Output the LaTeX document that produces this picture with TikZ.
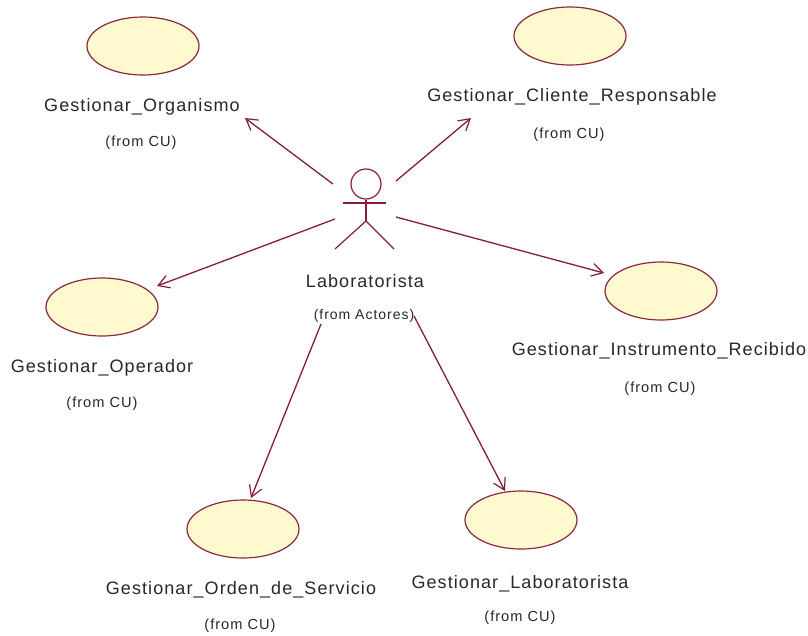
\documentclass[tikz,border=0pt]{standalone}
\usepackage{fontspec}
\setmainfont{Liberation Sans}
\newfontfamily\namefont[LetterSpace=6]{Liberation Sans}
\newfontfamily\fromfont[LetterSpace=7]{Liberation Sans}
\definecolor{umlline}{RGB}{132,28,66}
\definecolor{ucfill}{RGB}{255,249,208}
\definecolor{ucline}{RGB}{140,40,60}
\definecolor{txt}{RGB}{40,40,40}
\usetikzlibrary{shapes.geometric,arrows.meta}
\tikzset{
  usecase/.style={ellipse,draw=ucline,fill=ucfill,line width=1.2pt,minimum width=112pt,minimum height=58pt,inner sep=0pt},
  nametxt/.style={text=txt,font=\namefont\fontsize{18}{20}\selectfont,inner sep=0pt},
  fromtxt/.style={text=txt,font=\fromfont\fontsize{14.6}{16}\selectfont,inner sep=0pt},
  fromtxtb/.style={text=txt,font=\fromfont\fontsize{14}{16}\selectfont,inner sep=0pt},
  assoc/.style={draw=umlline,line width=1.3pt,-{Straight Barb[length=11pt,width=13pt,line width=1.2pt]}},
  actorline/.style={draw=umlline,line width=1.2pt}
}
\begin{document}
\begin{tikzpicture}[x=1pt,y=-1pt]
\useasboundingbox (0,0) rectangle (808,635);
\fill[white] (0,0) rectangle (808,635);
\node[usecase] (uc1) at (143,46) {};
\node[usecase] (uc2) at (570,36) {};
\node[usecase] (uc3) at (102,307) {};
\node[usecase] (uc4) at (661,291) {};
\node[usecase] (uc5) at (243,529) {};
\node[usecase] (uc6) at (521,520) {};
\node[nametxt] (n1) at (142,107) {Gestionar\_Organismo};
\node[fromtxt] (f1) at (141,143) {(from CU)};
\node[nametxt] (n2) at (572,97) {Gestionar\_Cliente\_Responsable};
\node[fromtxt] (f2) at (569,135) {(from CU)};
\node[nametxt] (n3) at (102,368) {Gestionar\_Operador};
\node[fromtxt] (f3) at (102,404) {(from CU)};
\node[nametxt] (n4) at (659,351) {Gestionar\_Instrumento\_Recibido};
\node[fromtxt] (f4) at (660,389) {(from CU)};
\node[nametxt] (n5) at (241,590) {Gestionar\_Orden\_de\_Servicio};
\node[fromtxt] (f5) at (240,626) {(from CU)};
\node[nametxt] (n6) at (520,584) {Gestionar\_Laboratorista};
\node[fromtxt] (f6) at (520,618) {(from CU)};
\node[nametxt] (na) at (365,281) {Laboratorista};
\node[fromtxtb] (fa) at (364,316) {(from Actores)};
% actor
\node[circle,draw=umlline,line width=1.2pt,minimum size=30pt,inner sep=0pt] (head) at (366,184) {};
\coordinate (hip) at (366,221);
\coordinate (armL) at (343,203);
\coordinate (armR) at (386,203);
\coordinate (legL) at (335,249);
\coordinate (legR) at (394,249);
\draw[actorline] (head.south) -- (hip);
\draw[actorline] (armL) -- (armR);
\draw[actorline] (legL) -- (hip) -- (legR);
% connector ends
\coordinate (s1) at (333,184); \coordinate (e1) at (245,118);
\coordinate (s2) at (396,181); \coordinate (e2) at (471,118);
\coordinate (s3) at (335,219); \coordinate (e3) at (157,286);
\coordinate (s4) at (396,217); \coordinate (e4) at (604,273);
\coordinate (s5) at (321,324); \coordinate (e5) at (251,498);
\coordinate (s6) at (414,316); \coordinate (e6) at (505,491);
\draw[assoc] (s1) -- (e1);
\draw[assoc] (s2) -- (e2);
\draw[assoc] (s3) -- (e3);
\draw[assoc] (s4) -- (e4);
\draw[assoc] (s5) -- (e5);
\draw[assoc] (s6) -- (e6);
\end{tikzpicture}
\end{document}
